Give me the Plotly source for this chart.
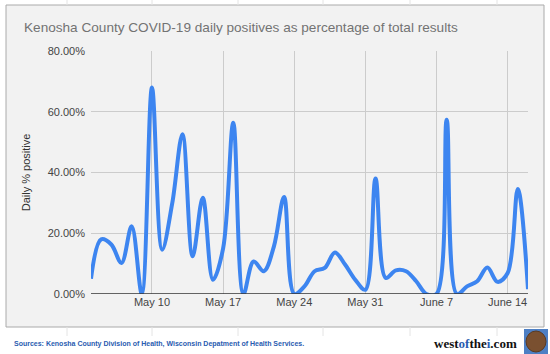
import plotly.graph_objects as go
import pandas as pd

dates = pd.date_range("2020-05-04", "2020-06-16", freq="D").strftime("%Y-%m-%d").tolist()
pct_positive = [5.0, 18.0, 16.3, 10.2, 22.3, 0.0, 68.0, 14.6, 30.0, 52.6,
                12.4, 31.7, 4.7, 15.0, 56.4, 0.0, 10.7, 7.5, 15.7, 31.9,
                0.0, 2.5, 7.5, 8.6, 13.7, 9.7, 4.7, 1.4, 38.0, 5.3,
                7.8, 7.5, 4.2, 0.0, 0.0, 57.4, 0.0, 2.5, 4.2, 8.7,
                4.0, 6.9, 34.6, 1.6]
tick_dates = ["2020-05-10", "2020-05-17", "2020-05-24", "2020-05-31", "2020-06-07", "2020-06-14"]
tick_labels = ["May 10", "May 17", "May 24", "May 31", "June 7", "June 14"]
y_ticks = [0, 20, 40, 60, 80]
y_labels = ["0.00%", "20.00%", "40.00%", "60.00%", "80.00%"]

title_text = "Kenosha County COVID-19 daily positives as percentage of total results"
source_text = "Sources: Kenosha County Division of Health, Wisconsin Depatment of Health Services."

W, H = 550, 354
fig = go.Figure()
fig.add_trace(go.Scatter(
    x=dates, y=pct_positive, mode="lines",
    line=dict(color="#3d85f0", width=4, shape="spline", smoothing=1.0),
    hoverinfo="skip", showlegend=False,
))

font_main = "Liberation Sans, Arial, sans-serif"
fig.update_layout(
    width=W, height=H,
    margin=dict(l=91, r=22, t=51, b=60),
    paper_bgcolor="white",
    plot_bgcolor="#f2f2f2",
    font=dict(family=font_main, size=11, color="#444444"),
    xaxis=dict(
        range=[dates[0], dates[-1]],
        tickmode="array", tickvals=tick_dates, ticktext=tick_labels,
        showgrid=True, gridcolor="#cccccc", gridwidth=1,
        zeroline=False, showline=False, ticks="",
        tickfont=dict(size=11, color="#444444"),
        fixedrange=True,
    ),
    yaxis=dict(
        range=[0, 80],
        tickmode="array", tickvals=y_ticks, ticktext=y_labels,
        showgrid=True, gridcolor="#cccccc", gridwidth=1,
        zeroline=False, showline=False, ticks="",
        ticklabelstandoff=5,
        tickfont=dict(size=11, color="#444444"),
        title=dict(text="Daily % positive", font=dict(size=11, color="#333333"), standoff=14),
        fixedrange=True,
    ),
)

shapes = []
# outer panel
shapes.append(dict(type="rect", xref="paper", yref="paper",
                   x0=-85/437, x1=(544-91)/437, y0=-(327-294)/243, y1=1+(51-5)/243,
                   line=dict(color="#aaaaaa", width=1), fillcolor="#f2f2f2", layer="below"))
# baseline
shapes.append(dict(type="line", xref="paper", yref="y", x0=0, x1=1, y0=0, y1=0,
                   line=dict(color="#333333", width=1.5), layer="above"))
# faint page grid lines outside panel
for xp in [67, 152, 238, 323, 410, 497]:
    shapes.append(dict(type="line", xref="paper", yref="paper",
                       x0=(xp-91)/437, x1=(xp-91)/437, y0=1+(51-0)/243, y1=1+(51-5)/243,
                       line=dict(color="#e4e4e4", width=1), layer="below"))
    shapes.append(dict(type="line", xref="paper", yref="paper",
                       x0=(xp-91)/437, x1=(xp-91)/437, y0=-(327-294)/243, y1=-(336-294)/243,
                       line=dict(color="#e4e4e4", width=1), layer="below"))
# logo
shapes.append(dict(type="rect", xref="paper", yref="paper",
                   x0=(524-91)/437, x1=(548-91)/437, y0=-(354-294)/243, y1=-(329-294)/243,
                   line=dict(width=0), fillcolor="#4d7fc4", layer="below"))
shapes.append(dict(type="circle", xref="paper", yref="paper",
                   x0=(526-91)/437, x1=(546-91)/437, y0=-(352-294)/243, y1=-(331-294)/243,
                   line=dict(color="#5a3a22", width=1), fillcolor="#7a5030", layer="above"))
fig.update_layout(shapes=shapes)

annotations = [
    dict(text=title_text, xref="paper", yref="paper",
         x=(22-91)/437, y=1+(51-27)/243, xanchor="left", yanchor="middle",
         showarrow=False, font=dict(family=font_main, size=13.6, color="#737373")),
    dict(text="<b>" + source_text + "</b>", xref="paper", yref="paper",
         x=(12-91)/437, y=-(344-294)/243, xanchor="left", yanchor="middle",
         showarrow=False, font=dict(family=font_main, size=7, color="#2a5cb0")),
    dict(text="<b>west<span style='color:#2a5cb0'>of</span>the<span style='color:#2a5cb0'>i</span>.com</b>",
         xref="paper", yref="paper",
         x=(519-91)/437, y=-(343-294)/243, xanchor="right", yanchor="middle",
         showarrow=False, font=dict(family="Liberation Serif, serif", size=13, color="#111111")),
]
fig.update_layout(annotations=annotations)

fig.write_html("out.html")
